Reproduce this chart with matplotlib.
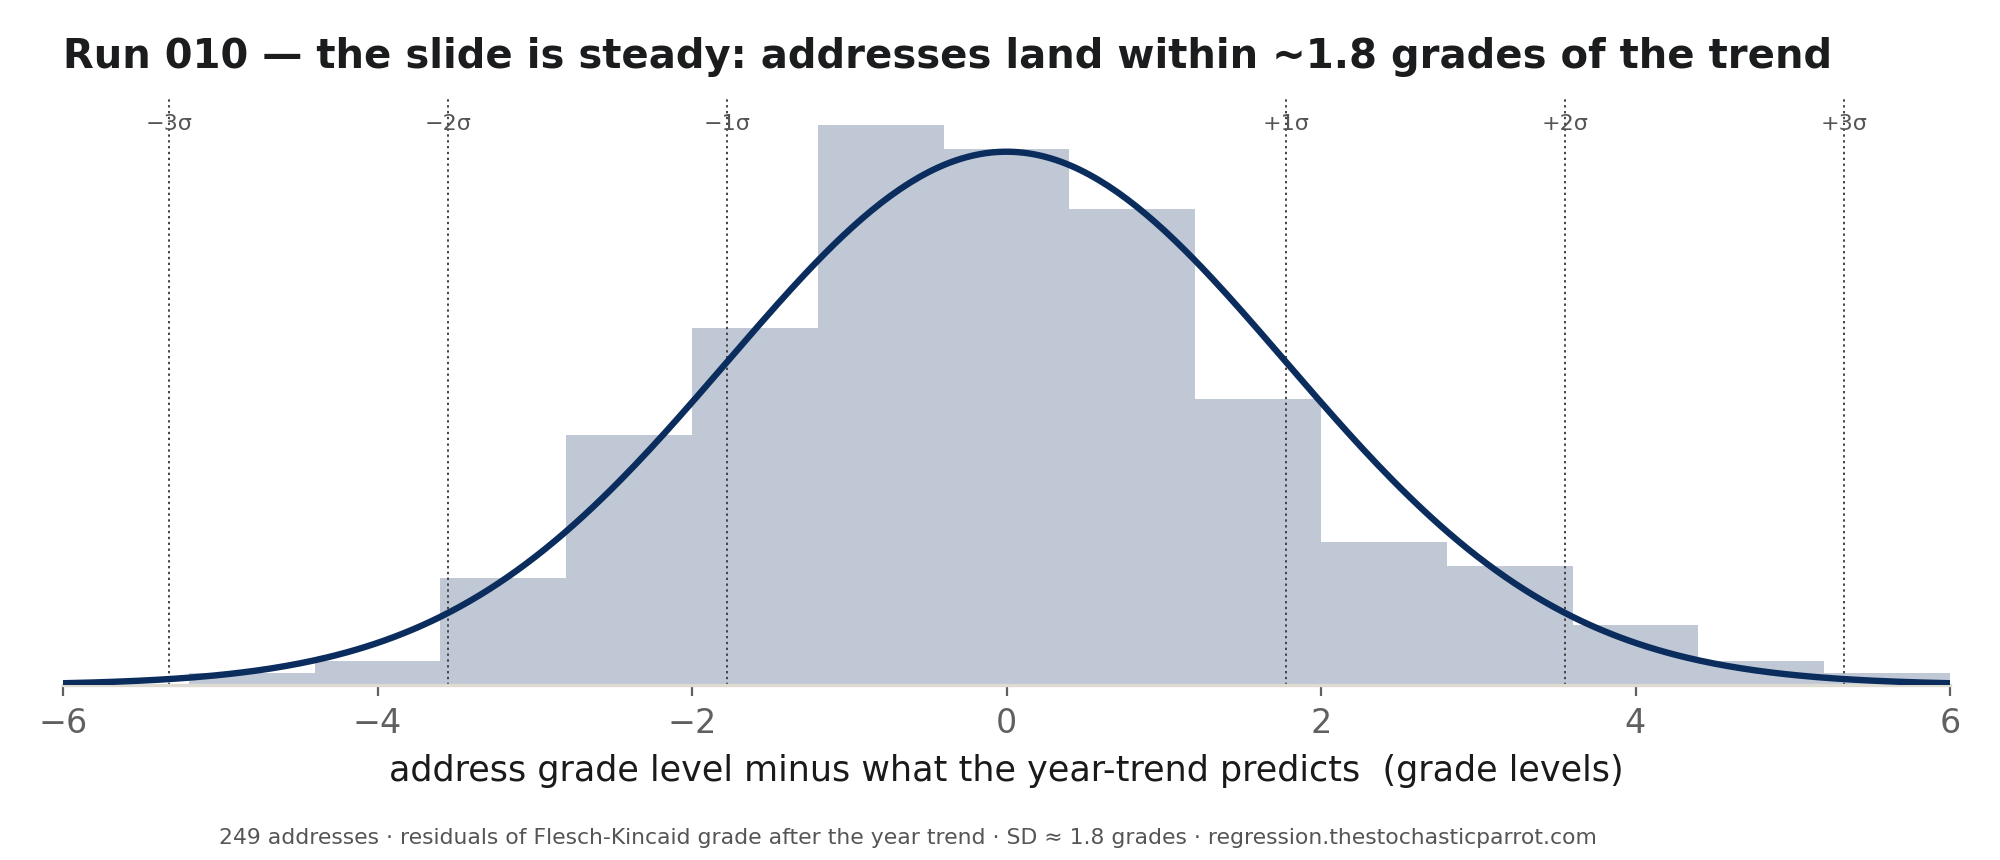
import matplotlib
matplotlib.use("Agg")
import matplotlib.pyplot as plt
import numpy as np

# residual histogram (grade levels), bins of 0.8
bin_edges = [-6.0, -5.2, -4.4, -3.6, -2.8, -2.0, -1.2, -0.4, 0.4, 1.2, 2.0, 2.8, 3.6, 4.4, 5.2, 6.0]
bin_counts = [0, 1, 2, 9, 21, 30, 47, 45, 40, 24, 12, 10, 5, 2, 1]
n_addresses = 249
fit_mean = 0.0
fit_sd = 1.775
sigma_marks = [-3, -2, -1, 1, 2, 3]
sigma_labels = ["\u22123\u03c3", "\u22122\u03c3", "\u22121\u03c3", "+1\u03c3", "+2\u03c3", "+3\u03c3"]
x_ticks = [-6, -4, -2, 0, 2, 4, 6]

fig = plt.figure(figsize=(10, 4.3), dpi=200)
ax = fig.add_axes([0.0315, 0.2035, 0.9435, 0.6835])

ax.stairs(bin_counts, bin_edges, fill=True, color="#c0c8d5", linewidth=0)

# fitted normal, scaled to counts per bin
bw = bin_edges[1] - bin_edges[0]
xs = np.linspace(bin_edges[0], bin_edges[-1], 400)
pdf = np.exp(-0.5 * ((xs - fit_mean) / fit_sd) ** 2) / (fit_sd * np.sqrt(2 * np.pi))
ax.plot(xs, pdf * n_addresses * bw, color="#0b2d5e", lw=2.3, zorder=3)

for k, lab in zip(sigma_marks, sigma_labels):
    xv = fit_mean + k * fit_sd
    ax.axvline(xv, color="#444444", lw=0.7, ls=(0, (1.2, 1.8)), zorder=2)
    ax.text(xv, 0.955, lab, transform=ax.get_xaxis_transform(), ha="center", va="center",
            fontsize=8, color="#555555")

ax.set_xlim(-6, 6)
ax.set_ylim(0, max(bin_counts) * 1.05)
ax.set_xticks(x_ticks)
ax.set_yticks([])
ax.tick_params(axis="x", labelsize=12, colors="#606060", length=4, width=0.8, pad=4)
for s in ["left", "right", "top"]:
    ax.spines[s].set_visible(False)
ax.spines["bottom"].set_color("#dedbd3")
ax.spines["bottom"].set_linewidth(1.2)

ax.set_xlabel("address grade level minus what the year-trend predicts  (grade levels)",
              fontsize=12.6, color="#1a1a1a", labelpad=5)

fig.text(0.0315, 0.921, "Run 010 \u2014 the slide is steady: addresses land within ~1.8 grades of the trend",
         fontsize=14.45, fontweight="bold", color="#1a1c1e", ha="left", va="baseline")
fig.text(0.4541, 0.026, "249 addresses \u00b7 residuals of Flesch-Kincaid grade after the year trend \u00b7 "
         "SD \u2248 1.8 grades \u00b7 regression.thestochasticparrot.com",
         fontsize=7.88, color="#555555", ha="center", va="center")

plt.savefig("out.png", dpi=200)
